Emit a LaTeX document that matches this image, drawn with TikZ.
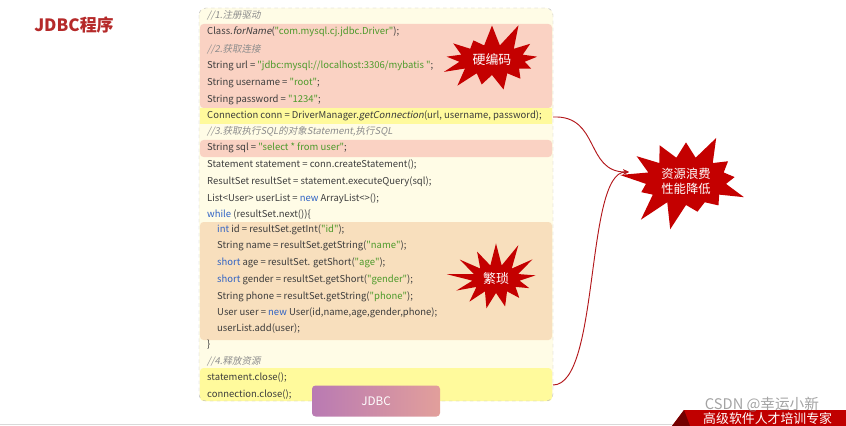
\documentclass[tikz,border=0pt]{standalone}
\usepackage{fontspec}
\setmainfont{Noto Sans CJK SC}
\newfontfamily\codefont{Noto Sans CJK SC}
\newfontfamily\slantfont[FakeSlant=0.2]{Noto Sans CJK SC}
\usetikzlibrary{shapes.symbols,arrows.meta}
\definecolor{boxbg}{HTML}{FFFCE6}
\definecolor{boxline}{HTML}{BDBDBD}
\definecolor{salmon}{HTML}{FAD2C3}
\definecolor{lemon}{HTML}{FFFA9C}
\definecolor{peach}{HTML}{F8DFBD}
\definecolor{codegray}{HTML}{3C3C3C}
\definecolor{strgreen}{HTML}{4C9A2A}
\definecolor{kwblue}{HTML}{2F62C4}
\definecolor{cmgray}{HTML}{8C8C8C}
\definecolor{burstred}{HTML}{C40000}
\definecolor{linkred}{HTML}{B3181C}
\definecolor{titlered}{HTML}{B52A2A}
\definecolor{btnpurple}{HTML}{B97AB3}
\definecolor{btnpink}{HTML}{E29F9B}
\definecolor{bannerred}{HTML}{C00000}
\newcommand\jstr[1]{\textcolor{strgreen}{#1}}
\newcommand\jkw[1]{\textcolor{kwblue}{#1}}
\newcommand\jit[1]{{\slantfont #1}}
\newcommand\jcm[1]{\textcolor{cmgray}{\slantfont #1}}
\begin{document}
\begin{tikzpicture}[x=0.03cm, y=-0.03cm,
    code/.style={anchor=west, inner sep=0pt, text=codegray,
      font=\codefont\fontsize{8.1}{10}\selectfont},
    band/.style={rounded corners=3pt},
    burst/.style={starburst, fill=burstred, draw=none, text=white,
      align=center, starburst points=13, starburst point height=0.85cm,
      font=\fontsize{11}{13}\selectfont},
    link/.style={draw=linkred, line width=0.8pt,
      -{Stealth[length=5pt,width=4.5pt]}}]
  \useasboundingbox (0,0) rectangle (846,426);
  % title
  \node[font=\bfseries\fontsize{14.5}{17}\selectfont, text=titlered] (title) at (74,25) {JDBC程序};
  % code box
  \fill[boxbg, rounded corners=6pt] (199,8) rectangle (553,401);
  \fill[salmon, band] (200,24) rectangle (552,108);
  \fill[lemon] (200,108) rectangle (552,124);
  \fill[salmon, band] (200,140) rectangle (552,157);
  \fill[peach, band] (200,222) rectangle (552,340);
  \fill[lemon, band] (200,368) rectangle (552,401);
  \draw[boxline, dashed, rounded corners=6pt] (199,8) rectangle (553,401);
  \path
    (207,15) node[code] (l1) {\jcm{//1.注册驱动}}
    (207,32) node[code] (l2) {Class.\jit{forName}(\jstr{"com.mysql.cj.jdbc.Driver"});}
    (207,49) node[code] (l3) {\jcm{//2.获取连接}}
    (207,66) node[code] (l4) {String url = \jstr{"jdbc:mysql://localhost:3306/mybatis "};}
    (207,83) node[code] (l5) {String username = \jstr{"root"};}
    (207,100) node[code] (l6) {String password = \jstr{"1234"};}
    (207,116) node[code] (l7) {Connection conn = DriverManager.\jit{getConnection}(url, username, password);}
    (207,131) node[code] (l8) {\jcm{//3.获取执行SQL的对象Statement,执行SQL}}
    (207,148) node[code] (l9) {String sql = \jstr{"select * from user"};}
    (207,165) node[code] (l10) {Statement statement = conn.createStatement();}
    (207,182) node[code] (l11) {ResultSet resultSet = statement.executeQuery(sql);}
    (207,199) node[code] (l12) {List<User> userList = \jkw{new} ArrayList<>();}
    (207,215) node[code] (l13) {\jkw{while} (resultSet.next())\{}
    (217,230) node[code] (l14) {\jkw{int} id = resultSet.getInt(\jstr{"id"});}
    (217,246) node[code] (l15) {String name = resultSet.getString(\jstr{"name"});}
    (217,263) node[code] (l16) {\jkw{short} age = resultSet. getShort(\jstr{"age"});}
    (217,280) node[code] (l17) {\jkw{short} gender = resultSet.getShort(\jstr{"gender"});}
    (217,297) node[code] (l18) {String phone = resultSet.getString(\jstr{"phone"});}
    (217,313) node[code] (l19) {User user = \jkw{new} User(id,name,age,gender,phone);}
    (217,329) node[code] (l20) {userList.add(user);}
    (207,345) node[code] (l21) {\}}
    (207,361) node[code] (l22) {\jcm{//4.释放资源}}
    (207,378) node[code] (l23) {statement.close();}
    (207,395) node[code] (l24) {connection.close();};
  % stars
  \node[burst, minimum width=3.1cm, minimum height=2.6cm, random starburst=31] (hard) at (492,60) {硬编码};
  \node[burst, minimum width=3.05cm, minimum height=2.2cm, random starburst=57] (tedious) at (496,279) {繁琐};
  \node[burst, minimum width=3.55cm, minimum height=2.75cm, random starburst=12,
    font=\fontsize{10.5}{12.5}\selectfont] (waste) at (686,181) {资源浪费\\性能降低};
  % connectors
  \coordinate (c1) at (553,117);
  \coordinate (c2) at (553,385);
  \coordinate (tip) at (629,172);
  \draw[link] (c1) .. controls (600,115) and (585,172) .. (tip);
  \draw[link] (c2) .. controls (600,385) and (585,172) .. (tip);
  % button
  \node[rounded corners=3pt, left color=btnpurple, right color=btnpink,
    minimum width=3.84cm, minimum height=0.93cm, text=white,
    font=\fontsize{10}{12}\selectfont] (jdbc) at (376,401) {JDBC};
  % footer
  \draw[black!15] (0,424) -- (846,424);
  \begin{scope}
    \clip (0,0) rectangle (846,426);
    \fill[bannerred] (672,426) -- (684,410) -- (846,410) -- (846,426) -- cycle;
    \fill[bannerred!60!black] (672,426) -- (684,410) -- (690,426) -- cycle;
    \node[anchor=west, text=white, inner sep=0pt, font=\fontsize{11}{13}\selectfont] (slogan) at (703,419) {高级软件人才培训专家};
    \node[text=black!45, opacity=0.8, inner sep=0pt, font=\fontsize{12.5}{14}\selectfont] (mark) at (762,405) {CSDN @幸运小新};
  \end{scope}
\end{tikzpicture}
\end{document}
